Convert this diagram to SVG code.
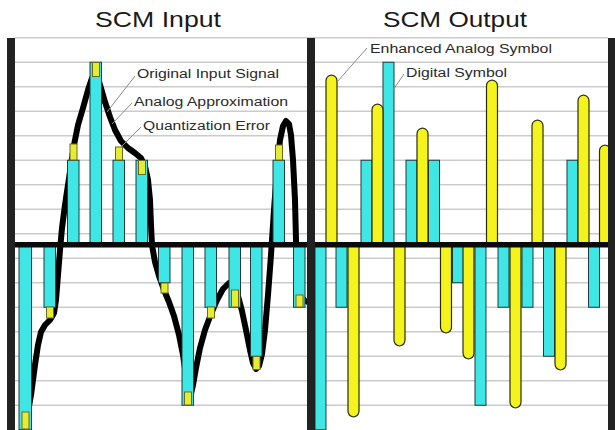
<svg xmlns="http://www.w3.org/2000/svg" width="615" height="430" viewBox="0 0 615 430">
  <style>
    .grid { stroke: #cbcbcb; stroke-width: 1.5; }
    .cy { fill: #3fe6e6; stroke: #1d3d3d; stroke-width: 1; }
    .qe { fill: #e6ec34; stroke: #6b6b1f; stroke-width: 1; }
    .ye { fill: #f4f41c; stroke: #2b2b10; stroke-width: 1.2; }
    .sig { fill: none; stroke: #000; stroke-width: 6; stroke-linejoin: round; stroke-linecap: round; }
    .lead { stroke: #8a8a8a; stroke-width: 1; fill: none; }
    .frame { fill: #222; }
    .lbl { font-family: "Liberation Sans", Arial, sans-serif; font-size: 12.5px; fill: #2a2a2a; }
    .ttl { font-family: "Liberation Sans", Arial, sans-serif; font-size: 22px; fill: #1a1a1a; }
  </style>

  <rect width="615" height="430" fill="#fff"/>

  <!-- horizontal level grid, half a step off the zero line -->
  <g id="grid" class="grid">
    <line x1="15" y1="37.75" x2="608" y2="37.75"/>
    <line x1="15" y1="62.25" x2="608" y2="62.25"/>
    <line x1="15" y1="86.75" x2="608" y2="86.75"/>
    <line x1="15" y1="111.25" x2="608" y2="111.25"/>
    <line x1="15" y1="135.75" x2="608" y2="135.75"/>
    <line x1="15" y1="160.25" x2="608" y2="160.25"/>
    <line x1="15" y1="184.75" x2="608" y2="184.75"/>
    <line x1="15" y1="209.25" x2="608" y2="209.25"/>
    <line x1="15" y1="233.75" x2="608" y2="233.75"/>
    <line x1="15" y1="258.25" x2="608" y2="258.25"/>
    <line x1="15" y1="282.75" x2="608" y2="282.75"/>
    <line x1="15" y1="307.25" x2="608" y2="307.25"/>
    <line x1="15" y1="331.75" x2="608" y2="331.75"/>
    <line x1="15" y1="356.25" x2="608" y2="356.25"/>
    <line x1="15" y1="380.75" x2="608" y2="380.75"/>
    <line x1="15" y1="405.25" x2="608" y2="405.25"/>
  </g>

  <!-- original input signal -->
  <g id="signal">
    <polyline class="sig" points="22,431 27,418 31,395 35,365 38,345 41,332 45,325 50,320 54,313 56,300 58,275 60,250 62,228 65,205 68,185 71,165 74,145 78,125 83,108 88,90 92,78 95,74 98,78 101,88 105,102 110,117 115,130 121,141 128,148 135,153 141,158 145,166 148,180 150,200 151,225 152,245 155,262 159,276 164,290 169,302 174,316 179,335 183,355 186,375 188,392 190,398 193,385 196,368 200,348 205,330 211,314 217,300 223,289 229,283 234,286 238,296 242,311 246,330 250,350 253,363 256,369 259,366 262,354 265,330 268,295 271,255 274,210 277,170 280,140 283,126 286,121 289,124 291,135 293,160 295,200 296,240 297,265 299,285 301,296 305,301 308,302"/>
  </g>

  <!-- analog approximation: quantized levels -->
  <g id="input-levels">
    <rect class="cy" x="19" y="245" width="12.5" height="184.75"/>
    <rect class="cy" x="44" y="245" width="11.5" height="62.25"/>
    <rect class="cy" x="67.5" y="160.25" width="11.5" height="84.75"/>
    <rect class="cy" x="90" y="62.25" width="11.5" height="182.75"/>
    <rect class="cy" x="113" y="160.25" width="11.5" height="84.75"/>
    <rect class="cy" x="136" y="160.25" width="11.5" height="84.75"/>
    <rect class="cy" x="158.5" y="245" width="11.5" height="37.75"/>
    <rect class="cy" x="182" y="245" width="11.5" height="160.25"/>
    <rect class="cy" x="205" y="245" width="11.5" height="62.25"/>
    <rect class="cy" x="229" y="245" width="11.5" height="62.25"/>
    <rect class="cy" x="250.5" y="245" width="11.5" height="111.25"/>
    <rect class="cy" x="273" y="160.25" width="11.5" height="84.75"/>
    <rect class="cy" x="293.5" y="245" width="11.5" height="62.25"/>
  </g>

  <!-- quantization error marks -->
  <g id="quant-error">
    <rect class="qe" x="22" y="412" width="7" height="17"/>
    <rect class="qe" x="46.5" y="307" width="7" height="11"/>
    <rect class="qe" x="70" y="144" width="7" height="16"/>
    <rect class="qe" x="92.5" y="62.5" width="7" height="14"/>
    <rect class="qe" x="115.5" y="147" width="7" height="13"/>
    <rect class="qe" x="138.5" y="160.5" width="7" height="14"/>
    <rect class="qe" x="161" y="283" width="7" height="10"/>
    <rect class="qe" x="184.5" y="392" width="7" height="13"/>
    <rect class="qe" x="207.5" y="307" width="7" height="11"/>
    <rect class="qe" x="231.5" y="290" width="7" height="17"/>
    <rect class="qe" x="253" y="356.5" width="7" height="13"/>
    <rect class="qe" x="275.5" y="145" width="7" height="15"/>
    <rect class="qe" x="296" y="295" width="7" height="12"/>
  </g>

  <!-- output digital symbols -->
  <g id="digital-symbols">
    <rect class="cy" x="315" y="245" width="11" height="184.75"/>
    <rect class="cy" x="336" y="245" width="11" height="62.25"/>
    <rect class="cy" x="361" y="160.25" width="11" height="84.75"/>
    <rect class="cy" x="383" y="62.25" width="11" height="182.75"/>
    <rect class="cy" x="406" y="160.25" width="11" height="84.75"/>
    <rect class="cy" x="428.5" y="160.25" width="11" height="84.75"/>
    <rect class="cy" x="452.5" y="245" width="11" height="37.75"/>
    <rect class="cy" x="475" y="245" width="11" height="160.25"/>
    <rect class="cy" x="498" y="245" width="11" height="62.25"/>
    <rect class="cy" x="522" y="245" width="11" height="62.25"/>
    <rect class="cy" x="543.5" y="245" width="11" height="111.25"/>
    <rect class="cy" x="567" y="160.25" width="11" height="84.75"/>
    <rect class="cy" x="588.5" y="245" width="11" height="62.25"/>
  </g>

  <!-- output enhanced analog symbols -->
  <g id="analog-symbols">
    <path class="ye" d="M326,245V81Q326,76 331.5,75Q337,76 337,81V245Z"/>
    <path class="ye" d="M348,245V411Q348,416 353.5,417Q359,416 359,411V245Z"/>
    <path class="ye" d="M372,245V110Q372,105 377.5,104Q383,105 383,110V245Z"/>
    <path class="ye" d="M394,245V340Q394,345 399.5,346Q405,345 405,340V245Z"/>
    <path class="ye" d="M417,245V134Q417,129 422.5,128Q428,129 428,134V245Z"/>
    <path class="ye" d="M440.5,245V327Q440.5,332 446,333Q451.5,332 451.5,327V245Z"/>
    <path class="ye" d="M463,245V353Q463,358 468.5,359Q474,358 474,353V245Z"/>
    <path class="ye" d="M486.5,245V86Q486.5,81 492,80Q497.5,81 497.5,86V245Z"/>
    <path class="ye" d="M510,245V402Q510,407 515.5,408Q521,407 521,402V245Z"/>
    <path class="ye" d="M532,245V126Q532,121 537.5,120Q543,121 543,126V245Z"/>
    <path class="ye" d="M555,245V364Q555,369 560.5,370Q566,369 566,364V245Z"/>
    <path class="ye" d="M578,245V101Q578,96 583.5,95Q589,96 589,101V245Z"/>
    <path class="ye" d="M599.5,245V151Q599.5,146 605,145Q610.5,146 610.5,151V245Z"/>
  </g>

  <!-- zero line and panel frames -->
  <g id="frame">
    <rect x="7" y="242" width="608" height="5.5" fill="#0a0a0a"/>
    <rect class="frame" x="7" y="38" width="8" height="392"/>
    <rect class="frame" x="307" y="38" width="8" height="392"/>
    <rect class="frame" x="608" y="38" width="7" height="392"/>
  </g>

  <!-- leader lines -->
  <g id="connectors">
    <line class="lead" x1="135" y1="76" x2="107" y2="112"/>
    <line class="lead" x1="132" y1="103" x2="112" y2="124"/>
    <line class="lead" x1="141" y1="127" x2="121" y2="147"/>
    <line class="lead" x1="367" y1="48" x2="337" y2="82"/>
    <line class="lead" x1="404" y1="74" x2="393" y2="90"/>
  </g>

  <g id="titles">
    <text class="ttl" x="95" y="27" textLength="126" lengthAdjust="spacingAndGlyphs">SCM Input</text>
    <text class="ttl" x="383" y="27" textLength="144" lengthAdjust="spacingAndGlyphs">SCM Output</text>
  </g>

  <g id="label-original"><text class="lbl" x="137" y="78" textLength="142" lengthAdjust="spacingAndGlyphs">Original Input Signal</text></g>
  <g id="label-analog"><text class="lbl" x="134" y="106" textLength="154" lengthAdjust="spacingAndGlyphs">Analog Approximation</text></g>
  <g id="label-quant"><text class="lbl" x="143" y="130" textLength="127" lengthAdjust="spacingAndGlyphs">Quantization Error</text></g>
  <g id="label-enhanced"><text class="lbl" x="370" y="53" textLength="182" lengthAdjust="spacingAndGlyphs">Enhanced Analog Symbol</text></g>
  <g id="label-digital"><text class="lbl" x="406" y="77" textLength="101" lengthAdjust="spacingAndGlyphs">Digital Symbol</text></g>
</svg>
